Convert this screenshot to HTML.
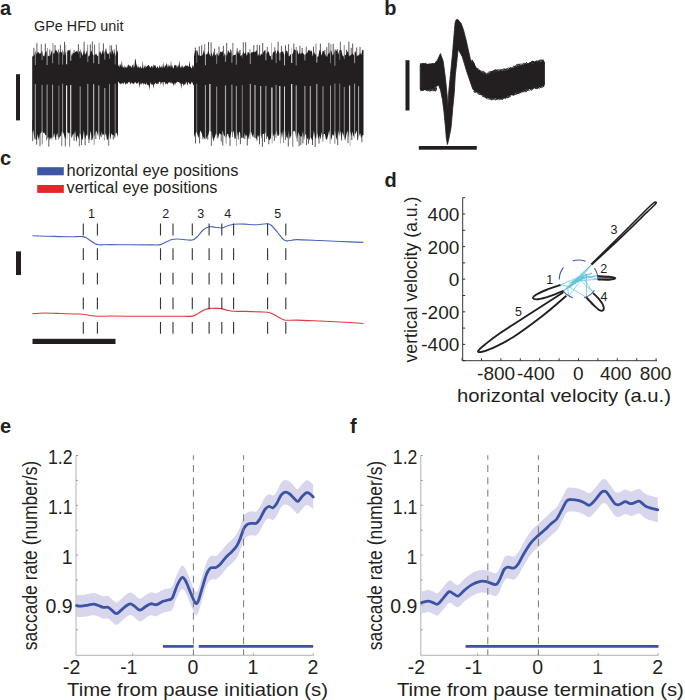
<!DOCTYPE html>
<html><head><meta charset="utf-8"><style>
html,body{margin:0;padding:0;background:#fff;width:685px;height:700px;overflow:hidden}
svg{display:block;font-family:"Liberation Sans", sans-serif}
</style></head><body>
<svg width="685" height="700" viewBox="0 0 685 700">
<text x="34" y="30.7" font-size="14.5" textLength="89.5" lengthAdjust="spacingAndGlyphs" fill="#231f20">GPe HFD unit</text>
<path d="M117,65.8 L117.6,66.6 L118.2,64.6 L118.8,66.2 L119.4,67 L120,63.3 L120.6,65 L121.2,66.8 L121.8,60 L122.4,65.8 L123,67.7 L123.6,66.6 L124.2,68.4 L124.8,65.1 L125.4,67.6 L126,67.3 L126.6,67.9 L127.2,64.7 L127.8,67.8 L128.4,64.6 L129,64.7 L129.6,66.1 L130.2,66.7 L130.8,65.6 L131.4,68.3 L132,65.4 L132.6,64.5 L133.2,68.3 L133.8,63.5 L134.4,67.7 L135,59.3 L135.6,59 L136.2,63.4 L136.8,65.5 L137.4,67.9 L138,64.8 L138.6,67.8 L139.2,66.6 L139.8,68.4 L140.4,66 L141,67.6 L141.6,68.4 L142.2,67.5 L142.8,60.4 L143.4,68.3 L144,68.3 L144.6,65.3 L145.2,67.9 L145.8,64.8 L146.4,67.5 L147,65.8 L147.6,66.1 L148.2,65 L148.8,65.1 L149.4,65.9 L150,67.1 L150.6,68 L151.2,65.7 L151.8,66.2 L152.4,66.3 L153,68.2 L153.6,64.6 L154.2,65.2 L154.8,65.8 L155.4,64.9 L156,67.6 L156.6,68.1 L157.2,66.5 L157.8,66.4 L158.4,68.3 L159,67.9 L159.6,64.8 L160.2,67.6 L160.8,67.1 L161.4,65.4 L162,68.5 L162.6,66.6 L163.2,61.8 L163.8,67 L164.4,67.7 L165,64.7 L165.6,66.2 L166.2,65.1 L166.8,62.4 L167.4,68.3 L168,63.3 L168.6,66.7 L169.2,66.6 L169.8,64.7 L170.4,67.5 L171,60.3 L171.6,66.7 L172.2,64.9 L172.8,67.8 L173.4,68.4 L174,67 L174.6,64.8 L175.2,64.8 L175.8,65.6 L176.4,65.1 L177,68.4 L177.6,65.7 L178.2,66.4 L178.8,64.5 L179.4,60.5 L180,66.6 L180.6,68 L181.2,65.1 L181.8,68.1 L182.4,65.1 L183,67.7 L183.6,67.2 L184.2,65.9 L184.8,67 L185.4,64.5 L186,66.6 L186.6,65.5 L187.2,65.3 L187.8,66 L188.4,67 L189,65.5 L189.6,60.3 L190.2,67.2 L190.8,66.4 L191.4,68.4 L192,67.8 L192.6,65.3 L193.2,65.1 L193.8,67.8 L194.4,65.4 L195,66.5 L195,82.7 L194.4,85.5 L193.8,85 L193.2,85.3 L192.6,82.3 L192,83.3 L191.4,81.6 L190.8,85.1 L190.2,83.6 L189.6,84.2 L189,82.7 L188.4,81.8 L187.8,84.2 L187.2,85.4 L186.6,82.6 L186,81.8 L185.4,84.5 L184.8,84.2 L184.2,84.8 L183.6,86.1 L183,83.8 L182.4,83.5 L181.8,84.4 L181.2,89.3 L180.6,82.8 L180,84.1 L179.4,82.4 L178.8,81.9 L178.2,82.3 L177.6,81.5 L177,82.5 L176.4,82.6 L175.8,82.7 L175.2,85 L174.6,82.5 L174,86.1 L173.4,84.8 L172.8,83.5 L172.2,83.2 L171.6,83.4 L171,81.6 L170.4,83.5 L169.8,82.7 L169.2,81.9 L168.6,82.6 L168,83.3 L167.4,84.7 L166.8,83.2 L166.2,83.8 L165.6,84.8 L165,82.6 L164.4,81.9 L163.8,81.8 L163.2,87 L162.6,82.3 L162,82.1 L161.4,83.1 L160.8,85 L160.2,82.1 L159.6,81.8 L159,82 L158.4,83.7 L157.8,84.3 L157.2,83.3 L156.6,84 L156,83.7 L155.4,82.5 L154.8,83.7 L154.2,84.4 L153.6,89.1 L153,83.6 L152.4,85.1 L151.8,85.1 L151.2,83.8 L150.6,82.3 L150,85.2 L149.4,89.9 L148.8,85.4 L148.2,85.1 L147.6,84.4 L147,85.4 L146.4,82.2 L145.8,85.1 L145.2,84.1 L144.6,84 L144,82.4 L143.4,85.2 L142.8,82.5 L142.2,83.6 L141.6,84.7 L141,82.4 L140.4,84.6 L139.8,84.3 L139.2,87.9 L138.6,81.6 L138,82.9 L137.4,83.4 L136.8,83 L136.2,84 L135.6,82.1 L135,82.3 L134.4,83.1 L133.8,84.6 L133.2,83.6 L132.6,83 L132,83.9 L131.4,82.2 L130.8,82.9 L130.2,84.8 L129.6,81.8 L129,82 L128.4,82.2 L127.8,83 L127.2,84.1 L126.6,83.4 L126,83.8 L125.4,85 L124.8,81.7 L124.2,83.2 L123.6,84.4 L123,82.5 L122.4,83.3 L121.8,84.2 L121.2,83 L120.6,84.8 L120,82.7 L119.4,83.8 L118.8,82 L118.2,81.8 L117.6,81.7 L117,84.1Z" fill="#231f20"/>
<path d="M32.2,56.8 L33.3,55.8 L34.4,55.1 L35.5,50.4 L36.6,54.8 L37.7,51.7 L38.8,52.4 L39.9,53.9 L41,52.7 L42.1,49.9 L43.2,55.8 L44.3,56.5 L45.4,51.5 L46.5,50.9 L47.6,56.7 L48.7,55.6 L49.8,56.4 L50.9,53.6 L52,49.9 L53.1,52.9 L54.2,54.3 L55.3,49.9 L56.4,50.5 L57.5,52.1 L58.6,55 L59.7,51.5 L60.8,51.8 L61.9,52.5 L63,50.7 L64.1,56.3 L65.2,51.2 L66.3,57 L67.4,50.5 L68.5,50.2 L69.6,50.2 L70.7,51.4 L71.8,56.2 L72.9,52.6 L74,53.4 L75.1,52 L76.2,51.6 L77.3,50.4 L78.4,54.2 L79.5,51.1 L80.6,51.4 L81.7,52.8 L82.8,55.9 L83.9,49.7 L85,54.8 L86.1,53 L87.2,49.5 L88.3,56.5 L89.4,55.9 L90.5,51.4 L91.6,50.7 L92.7,54.6 L93.8,54.9 L94.9,55.2 L96,53.6 L97.1,55.4 L98.2,56.4 L99.3,51.8 L100.4,51.4 L101.5,54.7 L102.6,50 L103.7,53.9 L104.8,51.2 L105.9,49.6 L107,53 L108.1,54.3 L109.2,53.1 L110.3,51.4 L111.4,54.8 L112.5,49.7 L113.6,54.6 L114.7,51.4 L115.8,56.4 L116.9,49.8 L118,52.7 L118,137.2 L116.9,133.5 L115.8,132.4 L114.7,137 L113.6,134.4 L112.5,135.2 L111.4,133.2 L110.3,140.1 L109.2,132.5 L108.1,139.3 L107,140.1 L105.9,133.2 L104.8,136.3 L103.7,134.1 L102.6,135.5 L101.5,131.2 L100.4,136.7 L99.3,131.3 L98.2,136.8 L97.1,132.4 L96,130.4 L94.9,134.8 L93.8,136.8 L92.7,139.9 L91.6,135.5 L90.5,131.1 L89.4,140.2 L88.3,138.7 L87.2,134.1 L86.1,136.2 L85,139.4 L83.9,130.3 L82.8,139.2 L81.7,140 L80.6,134.2 L79.5,132.8 L78.4,139.1 L77.3,135.3 L76.2,140.2 L75.1,130.7 L74,134 L72.9,134.3 L71.8,137.9 L70.7,136 L69.6,132.5 L68.5,133.6 L67.4,132 L66.3,134.7 L65.2,139.5 L64.1,135.2 L63,132.2 L61.9,131.8 L60.8,135.9 L59.7,136.9 L58.6,140.3 L57.5,133.1 L56.4,135 L55.3,139.7 L54.2,133 L53.1,137.9 L52,137.7 L50.9,137.6 L49.8,139.9 L48.7,136.6 L47.6,139.3 L46.5,133.9 L45.4,135.4 L44.3,132.6 L43.2,133 L42.1,131.1 L41,132.9 L39.9,133.8 L38.8,140.5 L37.7,133.9 L36.6,139.5 L35.5,139.7 L34.4,138.8 L33.3,130 L32.2,133.3Z" fill="#231f20"/>
<path d="M33.9 47.8V60M36.9 43.2V60M41.3 44.1V60M45.3 43.5V60M47.4 48V60M49.8 49.6V60M52.8 43.1V60M55 45V60M58.5 49.6V60M60.4 44.8V60M62.6 49.8V60M64.5 41.9V60M66.2 44.8V60M70.4 49V60M74.1 50V60M78.4 44.3V60M80.4 49.5V60M84.1 41.8V60M87.6 44.7V60M90.3 44.3V60M92.3 41.5V60M94.6 44.5V60M99 42.6V60M103.4 43.3V60M105.9 48.5V60M109.9 45.2V60M111.6 45.5V60M114.2 49.3V60M116.3 44.6V60M32.7 120V141.1M36.7 120V144.7M38.3 120V137.3M40 120V146.2M42.3 120V144.5M46.5 120V140.4M48.8 120V146.6M52.1 120V139.6M55.8 120V140.2M58.1 120V137M61.9 120V146.2M65.3 120V146.4M66.8 120V139.3M69.8 120V146.6M74.1 120V140.9M76.4 120V141.3M79.4 120V146.3M81.4 120V145M85.1 120V145.2M88.9 120V143.1M91.4 120V140.2M94 120V144.8M95.8 120V139M99.5 120V139.5M101.2 120V137.3M104.4 120V140.3M108.8 120V145.8M113.3 120V139.6M115 120V138" stroke="#231f20" stroke-width="0.75" fill="none"/>
<path d="M35.3 84.1V152" stroke="#fff" stroke-width="1.0" stroke-opacity="0.6"/><path d="M35.3 38V65.1" stroke="#fff" stroke-width="1.0" stroke-opacity="0.5"/><path d="M42.1 84.8V152" stroke="#fff" stroke-width="0.7" stroke-opacity="0.8"/><path d="M42.1 38V60.1" stroke="#fff" stroke-width="0.7" stroke-opacity="0.6"/><path d="M47.1 84.6V152" stroke="#fff" stroke-width="1.0" stroke-opacity="0.6"/><path d="M47.1 38V65.1" stroke="#fff" stroke-width="1.0" stroke-opacity="0.6"/><path d="M52.6 84.6V152" stroke="#fff" stroke-width="1.0" stroke-opacity="0.6"/><path d="M52.6 38V63.2" stroke="#fff" stroke-width="1.0" stroke-opacity="0.5"/><path d="M58.9 85.6V152" stroke="#fff" stroke-width="0.7" stroke-opacity="0.6"/><path d="M58.9 38V64.7" stroke="#fff" stroke-width="0.7" stroke-opacity="0.6"/><path d="M62.6 83.7V152" stroke="#fff" stroke-width="0.9" stroke-opacity="0.6"/><path d="M62.6 38V64.6" stroke="#fff" stroke-width="0.9" stroke-opacity="0.5"/><path d="M66.6 85.5V152" stroke="#fff" stroke-width="1.2" stroke-opacity="0.9"/><path d="M66.6 38V64.2" stroke="#fff" stroke-width="1.2" stroke-opacity="0.8"/><path d="M70.7 85.1V152" stroke="#fff" stroke-width="1.2" stroke-opacity="0.8"/><path d="M70.7 38V60.7" stroke="#fff" stroke-width="1.2" stroke-opacity="0.6"/><path d="M80.2 86.4V152" stroke="#fff" stroke-width="0.7" stroke-opacity="0.8"/><path d="M80.2 38V58.1" stroke="#fff" stroke-width="0.7" stroke-opacity="0.6"/><path d="M87.8 83.9V152" stroke="#fff" stroke-width="0.8" stroke-opacity="0.8"/><path d="M87.8 38V62" stroke="#fff" stroke-width="0.8" stroke-opacity="0.6"/><path d="M93.7 84.2V152" stroke="#fff" stroke-width="1.0" stroke-opacity="0.8"/><path d="M93.7 38V63.2" stroke="#fff" stroke-width="1.0" stroke-opacity="0.6"/><path d="M98.8 85.4V152" stroke="#fff" stroke-width="0.9" stroke-opacity="0.8"/><path d="M98.8 38V64" stroke="#fff" stroke-width="0.9" stroke-opacity="0.8"/><path d="M104.8 88V152" stroke="#fff" stroke-width="0.7" stroke-opacity="0.9"/><path d="M104.8 38V59.6" stroke="#fff" stroke-width="0.7" stroke-opacity="0.8"/><path d="M109.5 84.2V152" stroke="#fff" stroke-width="0.7" stroke-opacity="0.7"/><path d="M109.5 38V58.7" stroke="#fff" stroke-width="0.7" stroke-opacity="0.6"/><path d="M115.2 83.7V152" stroke="#fff" stroke-width="0.8" stroke-opacity="0.6"/><path d="M115.2 38V64.5" stroke="#fff" stroke-width="0.8" stroke-opacity="0.5"/>
<path d="M194,56.2 L195.1,50.8 L196.2,50.7 L197.3,50 L198.4,55.2 L199.5,55.5 L200.6,55.8 L201.7,56.3 L202.8,54.1 L203.9,50.1 L205,54.7 L206.1,54.3 L207.2,54.2 L208.3,51 L209.4,53.7 L210.5,56.5 L211.6,52.2 L212.7,56.8 L213.8,50.9 L214.9,55.8 L216,54.5 L217.1,52.4 L218.2,55.9 L219.3,54.4 L220.4,51.4 L221.5,52.3 L222.6,50.8 L223.7,56.9 L224.8,52.9 L225.9,55.6 L227,55.6 L228.1,50 L229.2,52.2 L230.3,53.3 L231.4,49.8 L232.5,56.4 L233.6,54.9 L234.7,55.1 L235.8,54.4 L236.9,49.7 L238,54.1 L239.1,50.3 L240.2,56.1 L241.3,55.6 L242.4,54.6 L243.5,51.2 L244.6,54.1 L245.7,51.9 L246.8,56.3 L247.9,51.4 L249,53.1 L250.1,54.1 L251.2,52.3 L252.3,52.5 L253.4,51.6 L254.5,52.3 L255.6,51.5 L256.7,49.9 L257.8,56.7 L258.9,53.4 L260,56.2 L261.1,53.5 L262.2,55 L263.3,52.3 L264.4,50.6 L265.5,50.1 L266.6,54.1 L267.7,51.7 L268.8,51.8 L269.9,56 L271,56.2 L272.1,55.1 L273.2,51.7 L274.3,52.6 L275.4,49.9 L276.5,54.1 L277.6,49.9 L278.7,51.8 L279.8,53.5 L280.9,51.8 L282,52.2 L283.1,50.7 L284.2,55.5 L285.3,52.9 L286.4,50.6 L287.5,51.5 L288.6,56.8 L289.7,55.7 L290.8,54 L291.9,54 L293,53.2 L294.1,49.5 L295.2,49.7 L296.3,50.7 L297.4,50.3 L298.5,54.4 L299.6,52.6 L300.7,54.3 L301.8,52.6 L302.9,53.3 L304,54.2 L305.1,54.9 L306.2,53.5 L307.3,52.8 L308.4,50.1 L309.5,50.8 L310.6,51.5 L311.7,50.4 L312.8,56.4 L313.9,51.5 L315,54.3 L316.1,54.6 L317.2,56.8 L318.3,56.5 L319.4,50.1 L320.5,50.8 L321.6,55.8 L322.7,50.7 L323.8,50.9 L324.9,54 L326,55.9 L327.1,56.9 L328.2,53.5 L329.3,53.5 L330.4,49.7 L331.5,51.3 L332.6,55.4 L333.7,53.9 L334.8,50.8 L335.9,50.3 L337,50.7 L338.1,54.8 L339.2,50.5 L340.3,49.8 L341.4,49.9 L342.5,55.2 L343.6,56.7 L344.7,54.5 L345.8,55.2 L346.9,52.4 L348,51 L349.1,56.6 L350.2,55.2 L351.3,55.1 L352.4,53.1 L353.5,55.4 L354.6,51.7 L355.7,51.5 L356.8,56.5 L357.9,55.2 L359,55.3 L360.1,53.1 L361.2,55.1 L362.3,49.7 L363.5,50.2 L363.5,134.9 L362.3,135.4 L361.2,138.3 L360.1,133 L359,136.3 L357.9,139.6 L356.8,130.5 L355.7,133.7 L354.6,133.5 L353.5,136.8 L352.4,131.4 L351.3,136.6 L350.2,130.9 L349.1,139.6 L348,130.4 L346.9,132.6 L345.8,137.5 L344.7,139.2 L343.6,135.6 L342.5,132.1 L341.4,139 L340.3,130.7 L339.2,136.8 L338.1,130.3 L337,140.3 L335.9,136.5 L334.8,130.3 L333.7,135.9 L332.6,134.1 L331.5,139.3 L330.4,140 L329.3,130.1 L328.2,135 L327.1,138.8 L326,139.7 L324.9,134 L323.8,134.1 L322.7,139.6 L321.6,132.1 L320.5,139.5 L319.4,135.3 L318.3,139.4 L317.2,133.1 L316.1,139.6 L315,137.1 L313.9,130.6 L312.8,139.9 L311.7,139.4 L310.6,136.8 L309.5,140.5 L308.4,136.9 L307.3,139.6 L306.2,133.9 L305.1,135 L304,140.4 L302.9,130.7 L301.8,136.4 L300.7,136.8 L299.6,135.4 L298.5,132.1 L297.4,136.4 L296.3,139.6 L295.2,131.9 L294.1,130.6 L293,131.7 L291.9,135.4 L290.8,136.1 L289.7,139.4 L288.6,130.6 L287.5,138.5 L286.4,137 L285.3,130.7 L284.2,137.4 L283.1,130.1 L282,138.7 L280.9,131.4 L279.8,134.3 L278.7,135.5 L277.6,136 L276.5,130.5 L275.4,135.1 L274.3,133.8 L273.2,136.6 L272.1,132.3 L271,137.7 L269.9,139.7 L268.8,140.1 L267.7,135.4 L266.6,140.1 L265.5,132.4 L264.4,133.5 L263.3,133.9 L262.2,133.9 L261.1,139 L260,132.6 L258.9,137.2 L257.8,134.8 L256.7,139 L255.6,138.1 L254.5,138.3 L253.4,133.4 L252.3,136.7 L251.2,132.1 L250.1,132.5 L249,136.2 L247.9,140.1 L246.8,134.8 L245.7,136.4 L244.6,132.6 L243.5,138.7 L242.4,137.6 L241.3,138.3 L240.2,133 L239.1,131.4 L238,137.3 L236.9,130.7 L235.8,138.2 L234.7,139.4 L233.6,130.8 L232.5,133.3 L231.4,131.4 L230.3,136.9 L229.2,138.4 L228.1,133.8 L227,134.2 L225.9,138.8 L224.8,136.5 L223.7,134.9 L222.6,130 L221.5,135.3 L220.4,134.1 L219.3,133.2 L218.2,138.2 L217.1,134.8 L216,133.4 L214.9,137.1 L213.8,139.3 L212.7,138.6 L211.6,131.6 L210.5,131.6 L209.4,130.4 L208.3,135 L207.2,136.5 L206.1,139 L205,139.4 L203.9,137.5 L202.8,136.7 L201.7,133.3 L200.6,130.5 L199.5,133.2 L198.4,138.3 L197.3,134 L196.2,131.8 L195.1,133.7 L194,137.7Z" fill="#231f20"/>
<path d="M195.3 47.6V60M199.3 46.4V60M201.7 45.2V60M204.8 44V60M208.5 42V60M211.1 42.3V60M214.6 48.5V60M219 46.5V60M223.4 45.9V60M226.7 42.9V60M230.6 49.5V60M232.8 42.9V60M237.1 48V60M240.1 49.9V60M243.3 42.4V60M245.7 42.3V60M250 49.1V60M253.8 45.1V60M257.2 44.7V60M259.6 45.1V60M262.7 43V60M267.2 46.9V60M271.5 42.6V60M274.8 47.4V60M278.1 41.8V60M281.4 45.9V60M285.5 45.3V60M288.6 44.2V60M291.5 47.4V60M293.8 43.5V60M296.3 47V60M299.9 45.8V60M302.2 47.9V60M306.2 46.7V60M309.8 49.8V60M313.5 46.6V60M316.1 43.5V60M320.4 43.7V60M324.8 50V60M326.8 47.1V60M328.9 42.8V60M330.8 44.1V60M333.2 43.8V60M335 49.2V60M337.4 49V60M340.3 41.6V60M344.3 45.2V60M346.5 49.8V60M348.9 41.7V60M351.2 47.8V60M352.7 43.6V60M356.7 47.5V60M360 47V60M195.5 120V143.5M199.6 120V143.4M202.9 120V139.3M204.9 120V138.2M207.7 120V139.6M211.3 120V145.9M213.6 120V141M217.2 120V138.6M221.2 120V141.8M222.8 120V145.6M225.9 120V143.6M230 120V145.9M232.5 120V137.1M236.5 120V146.1M238.3 120V139.5M240.4 120V144.2M244.8 120V139M247.3 120V145.5M250.2 120V139M253.1 120V137.2M257 120V140.7M259.5 120V144.4M262.4 120V146.9M264.5 120V142.1M268.8 120V144.3M272.1 120V143.4M274.4 120V140.8M276 120V137.8M280.3 120V143.3M283.8 120V142.8M285.6 120V140M288.3 120V146.5M292.7 120V146.9M297.1 120V141.6M299.1 120V146.3M300.8 120V145M302.9 120V143.4M306.6 120V145.1M308.5 120V143.7M312.5 120V145M315.2 120V147M319 120V143.5M322.9 120V141.7M326.7 120V139.3M330.3 120V143.9M334.8 120V143.8M337.7 120V145.1M341.6 120V140.6M345.1 120V140.2M348 120V143.2M349.8 120V146M351.8 120V140M354.4 120V137.9M357.6 120V140.2M361.9 120V142.3" stroke="#231f20" stroke-width="0.75" fill="none"/>
<path d="M196.7 83.8V152" stroke="#fff" stroke-width="0.7" stroke-opacity="0.6"/><path d="M196.7 38V62.9" stroke="#fff" stroke-width="0.7" stroke-opacity="0.5"/><path d="M205.4 85.1V152" stroke="#fff" stroke-width="0.8" stroke-opacity="0.8"/><path d="M205.4 38V65.2" stroke="#fff" stroke-width="0.8" stroke-opacity="0.8"/><path d="M209.9 83.9V152" stroke="#fff" stroke-width="1.2" stroke-opacity="0.9"/><path d="M216.7 86.6V152" stroke="#fff" stroke-width="0.9" stroke-opacity="0.6"/><path d="M216.7 38V63.9" stroke="#fff" stroke-width="0.9" stroke-opacity="0.5"/><path d="M225.5 85.4V152" stroke="#fff" stroke-width="1.2" stroke-opacity="0.6"/><path d="M225.5 38V61.8" stroke="#fff" stroke-width="1.2" stroke-opacity="0.5"/><path d="M231.9 84.6V152" stroke="#fff" stroke-width="0.8" stroke-opacity="0.8"/><path d="M231.9 38V62.8" stroke="#fff" stroke-width="0.8" stroke-opacity="0.7"/><path d="M236.3 86V152" stroke="#fff" stroke-width="0.9" stroke-opacity="0.7"/><path d="M236.3 38V64.7" stroke="#fff" stroke-width="0.9" stroke-opacity="0.6"/><path d="M242.3 85.1V152" stroke="#fff" stroke-width="0.7" stroke-opacity="0.6"/><path d="M242.3 38V58.2" stroke="#fff" stroke-width="0.7" stroke-opacity="0.4"/><path d="M250.3 83.9V152" stroke="#fff" stroke-width="0.9" stroke-opacity="0.8"/><path d="M250.3 38V64.1" stroke="#fff" stroke-width="0.9" stroke-opacity="0.6"/><path d="M255 85V152" stroke="#fff" stroke-width="1.0" stroke-opacity="0.8"/><path d="M260.7 86V152" stroke="#fff" stroke-width="1.0" stroke-opacity="0.8"/><path d="M265.9 86V152" stroke="#fff" stroke-width="0.9" stroke-opacity="0.7"/><path d="M265.9 38V60.3" stroke="#fff" stroke-width="0.9" stroke-opacity="0.7"/><path d="M271.9 87.4V152" stroke="#fff" stroke-width="1.2" stroke-opacity="0.9"/><path d="M271.9 38V59.6" stroke="#fff" stroke-width="1.2" stroke-opacity="0.8"/><path d="M276.1 84.8V152" stroke="#fff" stroke-width="0.8" stroke-opacity="0.7"/><path d="M276.1 38V63.1" stroke="#fff" stroke-width="0.8" stroke-opacity="0.6"/><path d="M279.8 86V152" stroke="#fff" stroke-width="1.2" stroke-opacity="0.9"/><path d="M279.8 38V60.4" stroke="#fff" stroke-width="1.2" stroke-opacity="0.6"/><path d="M284.5 86.5V152" stroke="#fff" stroke-width="1.0" stroke-opacity="0.8"/><path d="M284.5 38V65.3" stroke="#fff" stroke-width="1.0" stroke-opacity="0.7"/><path d="M291.7 83.9V152" stroke="#fff" stroke-width="1.2" stroke-opacity="0.9"/><path d="M291.7 38V63.1" stroke="#fff" stroke-width="1.2" stroke-opacity="0.8"/><path d="M296.2 85.4V152" stroke="#fff" stroke-width="0.8" stroke-opacity="0.9"/><path d="M296.2 38V65.4" stroke="#fff" stroke-width="0.8" stroke-opacity="0.6"/><path d="M304.9 86V152" stroke="#fff" stroke-width="0.8" stroke-opacity="0.8"/><path d="M304.9 38V60.4" stroke="#fff" stroke-width="0.8" stroke-opacity="0.7"/><path d="M310.3 86.1V152" stroke="#fff" stroke-width="1.0" stroke-opacity="0.7"/><path d="M316.8 84V152" stroke="#fff" stroke-width="1.2" stroke-opacity="0.6"/><path d="M316.8 38V62.6" stroke="#fff" stroke-width="1.2" stroke-opacity="0.6"/><path d="M323 86.2V152" stroke="#fff" stroke-width="0.7" stroke-opacity="0.8"/><path d="M330.5 85.4V152" stroke="#fff" stroke-width="0.8" stroke-opacity="0.7"/><path d="M330.5 38V63.2" stroke="#fff" stroke-width="0.8" stroke-opacity="0.5"/><path d="M334.9 83.5V152" stroke="#fff" stroke-width="0.7" stroke-opacity="0.7"/><path d="M334.9 38V65.9" stroke="#fff" stroke-width="0.7" stroke-opacity="0.7"/><path d="M339.7 83.6V152" stroke="#fff" stroke-width="0.7" stroke-opacity="0.6"/><path d="M339.7 38V59.9" stroke="#fff" stroke-width="0.7" stroke-opacity="0.5"/><path d="M344.3 86.9V152" stroke="#fff" stroke-width="0.7" stroke-opacity="0.7"/><path d="M344.3 38V59.2" stroke="#fff" stroke-width="0.7" stroke-opacity="0.6"/><path d="M349.6 85.6V152" stroke="#fff" stroke-width="1.2" stroke-opacity="0.8"/><path d="M354.6 83.6V152" stroke="#fff" stroke-width="0.7" stroke-opacity="0.8"/><path d="M354.6 38V63.2" stroke="#fff" stroke-width="0.7" stroke-opacity="0.8"/><path d="M358.6 86.2V152" stroke="#fff" stroke-width="0.9" stroke-opacity="0.7"/>
<rect x="16" y="74.2" width="4" height="46.2" fill="#231f20"/>
<path d="M420.2,65 L425,64.5 L430,64.5 L434.3,64 L437.5,60 L440.4,53.6 L443.2,61.3 L445.5,78.7 L447.2,96.1 L447.8,108 L448.9,90 L450.5,74 L452.5,53.6 L454.1,34.3 L455.1,22.7 L456.1,19.8 L458,19.6 L461.3,23.7 L463.5,30 L466.1,40 L470.5,59.7 L477.1,70.2 L486.3,75.5 L494.2,72.2 L506,70.9 L515.2,67.6 L528.3,64.3 L544.1,61.7 L544.5,62 L544.5,85 L528.3,88.6 L515.2,92.6 L502,97.8 L488.9,97.8 L479.7,92.6 L472.8,89.2 L467.1,72.8 L462.2,56.5 L458.4,49.7 L458.4,47.5 L457.5,55 L456.6,64 L455.3,75 L454.3,92 L452.6,110 L451,128 L448.6,140 L447.4,144.5 L446.3,138 L445.5,128 L444,112 L442.5,100 L440.5,90 L438.5,85 L434,88 L428,89 L420.2,89.2Z" fill="#231f20" stroke="#231f20" stroke-width="0.8" stroke-linejoin="round"/>
<polyline points="420.2,64.3 421.7,65.1 423.2,63.3 424.7,64 426.2,64.7 427.7,65.5 429.2,63.3 430.7,65.7 432.2,63.3 433.7,65.5 435.2,63.8 436.7,64.7" fill="none" stroke="#231f20" stroke-width="0.7"/>
<polyline points="420.2,88.3 421.7,89.5 423.2,90.2 424.7,88.4 426.2,90 427.7,90.2 429.2,88.9 430.7,88.8 432.2,88.2 433.7,89 435.2,88 436.7,88.5" fill="none" stroke="#231f20" stroke-width="0.7"/>
<polyline points="420.2,66 421.7,65.6 423.2,63.7 424.7,64.4 426.2,63.3 427.7,65.3 429.2,64.9 430.7,64.9 432.2,63.8 433.7,65.3 435.2,64.7 436.7,64.1" fill="none" stroke="#231f20" stroke-width="0.7"/>
<polyline points="420.2,90 421.7,90.2 423.2,90.6 424.7,87.8 426.2,88.4 427.7,88.3 429.2,90.1 430.7,90.7 432.2,87.9 433.7,87.5 435.2,90.7 436.7,87.6" fill="none" stroke="#231f20" stroke-width="0.7"/>
<polyline points="420.2,63.8 421.7,64.5 423.2,63.8 424.7,64.6 426.2,64.5 427.7,64.5 429.2,64.6 430.7,64.9 432.2,63.8 433.7,64 435.2,63.2 436.7,65.1" fill="none" stroke="#231f20" stroke-width="0.7"/>
<polyline points="420.2,91 421.7,89.7 423.2,88.6 424.7,87.8 426.2,89 427.7,91.2 429.2,89.8 430.7,89.2 432.2,89.2 433.7,89.9 435.2,91 436.7,89.7" fill="none" stroke="#231f20" stroke-width="0.7"/>
<polyline points="420.2,64.5 421.7,65.3 423.2,63.7 424.7,65.1 426.2,64.6 427.7,65.4 429.2,65.4 430.7,65.7 432.2,63.7 433.7,65.2 435.2,64.4 436.7,65" fill="none" stroke="#231f20" stroke-width="0.7"/>
<polyline points="420.2,88.3 421.7,88 423.2,90.3 424.7,87.8 426.2,89.4 427.7,88 429.2,89.8 430.7,89.5 432.2,90.9 433.7,90 435.2,91.1 436.7,90.2" fill="none" stroke="#231f20" stroke-width="0.7"/>
<polyline points="420.2,64.3 421.7,65.7 423.2,65.4 424.7,63.6 426.2,64.4 427.7,64.4 429.2,65.4 430.7,63.4 432.2,65.2 433.7,65.7 435.2,64.7 436.7,64.3" fill="none" stroke="#231f20" stroke-width="0.7"/>
<polyline points="420.2,88.9 421.7,90.7 423.2,88.1 424.7,89.9 426.2,87.5 427.7,89.8 429.2,91.1 430.7,91.1 432.2,89.8 433.7,88.6 435.2,89.4 436.7,88.1" fill="none" stroke="#231f20" stroke-width="0.7"/>
<polyline points="420.2,63.5 421.7,63.6 423.2,64.2 424.7,63.4 426.2,64 427.7,65.7 429.2,65.1 430.7,65.3 432.2,65.7 433.7,63.4 435.2,64.6 436.7,65.5" fill="none" stroke="#231f20" stroke-width="0.7"/>
<polyline points="420.2,88.1 421.7,89.8 423.2,90.3 424.7,88.5 426.2,90.6 427.7,87.7 429.2,87.7 430.7,91 432.2,89.2 433.7,91.1 435.2,87.8 436.7,90.2" fill="none" stroke="#231f20" stroke-width="0.7"/>
<polyline points="420.2,64.6 421.7,63.9 423.2,63.9 424.7,64.6 426.2,65.7 427.7,65.1 429.2,66 430.7,65.4 432.2,63.9 433.7,64.3 435.2,64.8 436.7,64.2" fill="none" stroke="#231f20" stroke-width="0.7"/>
<polyline points="420.2,89.5 421.7,89.8 423.2,89.8 424.7,89.8 426.2,89.8 427.7,89.6 429.2,88.2 430.7,87.8 432.2,87.9 433.7,89.5 435.2,87.8 436.7,88.2" fill="none" stroke="#231f20" stroke-width="0.7"/>
<polyline points="472,63 473.6,62.8 475.2,68.4 476.8,68.7 478.4,71 480,70.4 481.6,71.2 483.2,71.4 484.8,72.4 486.4,75.4 488,76.2 489.6,75.3 491.2,71.1 492.8,73 494.4,72.7 496,73 497.6,71.9 499.2,71.8 500.8,70 502.4,72.1 504,70.8 505.6,68.9 507.2,70.2 508.8,70.8 510.4,69.1 512,69.3 513.6,69.6 515.2,66.8 516.8,67.5 518.4,65.1 520,66.8 521.6,67.1 523.2,65.3 524.8,64.8 526.4,65.7 528,63.8 529.6,63.1 531.2,62.2 532.8,61.4 534.4,62.6 536,61.2 537.6,63.8 539.2,61 540.8,59.9 542.4,61.8 544,62.2" fill="none" stroke="#231f20" stroke-width="0.7"/>
<polyline points="473.6,89 475.2,89.8 476.8,91.2 478.4,92.1 480,91.9 481.6,95.5 483.2,97 484.8,94.6 486.4,97.4 488,97.6 489.6,98.3 491.2,98.3 492.8,98.1 494.4,99.5 496,100.1 497.6,97.4 499.2,97.7 500.8,96.5 502.4,97.8 504,96.6 505.6,95.6 507.2,97.6 508.8,95.7 510.4,93.9 512,93.1 513.6,94.1 515.2,94.4 516.8,94.2 518.4,93 520,92.7 521.6,89.8 523.2,89.2 524.8,90.8 526.4,90.2 528,88 529.6,88 531.2,86.5 532.8,88.8 534.4,87.8 536,88.7 537.6,88.6 539.2,86.7 540.8,85.6 542.4,85 544,86.1" fill="none" stroke="#231f20" stroke-width="0.7"/>
<polyline points="472,59.8 473.6,65.8 475.2,67 476.8,68.2 478.4,71.9 480,70.7 481.6,73.3 483.2,73 484.8,72.2 486.4,76.8 488,73.5 489.6,73.3 491.2,71.5 492.8,72.9 494.4,69.9 496,69.6 497.6,73 499.2,71.7 500.8,72 502.4,69.5 504,69 505.6,69.3 507.2,68.5 508.8,69.1 510.4,67.2 512,69.1 513.6,69.2 515.2,66.2 516.8,66.9 518.4,68.2 520,64.7 521.6,67 523.2,66.1 524.8,66.3 526.4,63.8 528,65.2 529.6,64.3 531.2,63.1 532.8,61.2 534.4,64.7 536,60.8 537.6,61.3 539.2,63 540.8,60.4 542.4,60.9 544,61.4" fill="none" stroke="#231f20" stroke-width="0.7"/>
<polyline points="473.6,89 475.2,90.7 476.8,91.1 478.4,90.8 480,92 481.6,93.3 483.2,94.9 484.8,96.3 486.4,97.9 488,96.2 489.6,96.8 491.2,99.8 492.8,98.5 494.4,97.2 496,97.2 497.6,99 499.2,98.1 500.8,97.9 502.4,99.9 504,95.6 505.6,97.4 507.2,97 508.8,96 510.4,95.4 512,92.5 513.6,95.6 515.2,91.3 516.8,92.1 518.4,91.7 520,93 521.6,92 523.2,92 524.8,90.4 526.4,91.6 528,88.5 529.6,88.4 531.2,88.7 532.8,87.4 534.4,86.3 536,88.1 537.6,86.4 539.2,88.1 540.8,86.9 542.4,83.9 544,84" fill="none" stroke="#231f20" stroke-width="0.7"/>
<polyline points="472,62.8 473.6,64.8 475.2,67.9 476.8,68.5 478.4,71.5 480,71.7 481.6,72.7 483.2,71.2 484.8,74.3 486.4,76.8 488,72.4 489.6,71.7 491.2,74.8 492.8,70.8 494.4,71.2 496,69.8 497.6,70.8 499.2,70.6 500.8,69.7 502.4,72.7 504,72.2 505.6,72 507.2,71.9 508.8,70.4 510.4,70.7 512,69.8 513.6,68.3 515.2,68.4 516.8,68.5 518.4,64.5 520,64.2 521.6,63.9 523.2,66.7 524.8,64.3 526.4,62.6 528,64.1 529.6,63.5 531.2,61.8 532.8,61.4 534.4,62.5 536,63.4 537.6,61.3 539.2,61 540.8,62.6 542.4,61.7 544,60.4" fill="none" stroke="#231f20" stroke-width="0.7"/>
<polyline points="473.6,89 475.2,90.4 476.8,91.9 478.4,91.9 480,94.8 481.6,93.4 483.2,95 484.8,97.3 486.4,95 488,97.1 489.6,97.1 491.2,98.5 492.8,100.2 494.4,97.9 496,100 497.6,96.9 499.2,100.1 500.8,97.6 502.4,97.4 504,96.6 505.6,98.4 507.2,95.1 508.8,93.8 510.4,93.1 512,94.6 513.6,94.2 515.2,92.5 516.8,93.2 518.4,92.2 520,93 521.6,90.6 523.2,91.7 524.8,90.3 526.4,91.6 528,89.9 529.6,90.5 531.2,88.1 532.8,88.7 534.4,86.3 536,86.2 537.6,87.4 539.2,85.7 540.8,87.6 542.4,84.3 544,86.9" fill="none" stroke="#231f20" stroke-width="0.7"/>
<polyline points="472,59.9 473.6,62.1 475.2,67.6 476.8,68.7 478.4,69.9 480,70.6 481.6,72.6 483.2,74.8 484.8,74.5 486.4,74.8 488,75.8 489.6,74 491.2,71 492.8,73.7 494.4,70.3 496,72.4 497.6,70.8 499.2,72.7 500.8,69.6 502.4,70 504,71.5 505.6,71 507.2,70.6 508.8,69.3 510.4,68.4 512,67.7 513.6,69.6 515.2,66.1 516.8,64.7 518.4,66.8 520,66.7 521.6,65.3 523.2,63.9 524.8,64.9 526.4,64.8 528,64.9 529.6,62.3 531.2,64 532.8,61.2 534.4,62.4 536,63.6 537.6,63 539.2,60.1 540.8,60.2 542.4,59.7 544,63.1" fill="none" stroke="#231f20" stroke-width="0.7"/>
<polyline points="473.6,89.1 475.2,92.5 476.8,90.9 478.4,92.6 480,92.5 481.6,94.7 483.2,94.8 484.8,97.3 486.4,97.8 488,97.5 489.6,98.2 491.2,96.5 492.8,99 494.4,98.1 496,96.3 497.6,96.6 499.2,97.2 500.8,97.9 502.4,98.1 504,98.1 505.6,98.6 507.2,94.9 508.8,94.4 510.4,94.7 512,94 513.6,94.8 515.2,94.7 516.8,93 518.4,92.9 520,92.6 521.6,89.5 523.2,90.1 524.8,89.6 526.4,88 528,88.4 529.6,87.5 531.2,89.1 532.8,87.3 534.4,87.1 536,89.1 537.6,87 539.2,88.5 540.8,86.8 542.4,86 544,86.8" fill="none" stroke="#231f20" stroke-width="0.7"/>
<polyline points="472,62.8 473.6,62.6 475.2,67 476.8,71 478.4,70.2 480,72.9 481.6,72 483.2,72.7 484.8,73.2 486.4,74.2 488,76.2 489.6,75.6 491.2,72.1 492.8,72.1 494.4,70 496,71.9 497.6,72.9 499.2,73.1 500.8,72.9 502.4,72.1 504,69.5 505.6,70.2 507.2,68.5 508.8,67.8 510.4,68.8 512,69.7 513.6,68.9 515.2,66.7 516.8,68.1 518.4,66.2 520,65.9 521.6,67.4 523.2,66.8 524.8,62.9 526.4,64.3 528,64 529.6,63.9 531.2,62.1 532.8,62.5 534.4,62.1 536,62.2 537.6,63.7 539.2,63.1 540.8,62.6 542.4,63.3 544,60.7" fill="none" stroke="#231f20" stroke-width="0.7"/>
<polyline points="473.6,91.5 475.2,92.7 476.8,89.9 478.4,91.2 480,93.8 481.6,92.3 483.2,94 484.8,95.6 486.4,97.9 488,96 489.6,96.5 491.2,97.3 492.8,97.2 494.4,96.9 496,98.6 497.6,97 499.2,96.3 500.8,99.8 502.4,98 504,97.2 505.6,95.9 507.2,97.8 508.8,97.5 510.4,93.3 512,95.1 513.6,94.4 515.2,93.4 516.8,92.3 518.4,91.7 520,92.5 521.6,89.2 523.2,92.1 524.8,88.5 526.4,88.4 528,88.7 529.6,86.8 531.2,90 532.8,87.7 534.4,87.2 536,86.7 537.6,88.5 539.2,86 540.8,86.9 542.4,87.7 544,85.2" fill="none" stroke="#231f20" stroke-width="0.7"/>
<polyline points="472,59.9 473.6,63.9 475.2,67.1 476.8,69.4 478.4,71.1 480,71.6 481.6,73.2 483.2,75.1 484.8,72.9 486.4,76 488,75.8 489.6,74.8 491.2,72.8 492.8,71.1 494.4,71.5 496,71.6 497.6,70.1 499.2,72.2 500.8,71.5 502.4,71.9 504,71 505.6,69.9 507.2,69.6 508.8,70.2 510.4,68.9 512,69.4 513.6,66.2 515.2,66.4 516.8,64.9 518.4,64.3 520,65.5 521.6,65.7 523.2,63.1 524.8,64.5 526.4,64.7 528,63.8 529.6,65.1 531.2,62.3 532.8,62.3 534.4,64.4 536,61.1 537.6,61.3 539.2,60.9 540.8,63.6 542.4,60.6 544,62.6" fill="none" stroke="#231f20" stroke-width="0.7"/>
<polyline points="473.6,88.2 475.2,91.7 476.8,92.4 478.4,93.6 480,92.2 481.6,92.9 483.2,96.6 484.8,94.3 486.4,98.5 488,99 489.6,99.3 491.2,97.1 492.8,99.2 494.4,96.7 496,97.5 497.6,99.6 499.2,97.9 500.8,97.7 502.4,99.5 504,97.4 505.6,97.4 507.2,96.8 508.8,97.1 510.4,96.7 512,93.1 513.6,93.2 515.2,94.3 516.8,93.4 518.4,93.7 520,89.7 521.6,92 523.2,90.5 524.8,92.2 526.4,89.3 528,90.8 529.6,87.2 531.2,87.6 532.8,87.2 534.4,88.1 536,86.2 537.6,87.7 539.2,86.2 540.8,86.7 542.4,85.6 544,86.6" fill="none" stroke="#231f20" stroke-width="0.7"/>
<polyline points="472,63 473.6,63.2 475.2,66.5 476.8,68.7 478.4,68.7 480,71.1 481.6,73.4 483.2,73.2 484.8,74.1 486.4,73.3 488,73.6 489.6,73.3 491.2,71.2 492.8,73.8 494.4,70.6 496,70.9 497.6,69.7 499.2,69.6 500.8,70.6 502.4,70 504,68.7 505.6,69.7 507.2,71.8 508.8,70.1 510.4,67.7 512,68.9 513.6,66 515.2,67.4 516.8,65.7 518.4,64.3 520,65.4 521.6,66.6 523.2,65 524.8,65.3 526.4,62.5 528,64.1 529.6,64.2 531.2,63.3 532.8,62.3 534.4,61.4 536,62 537.6,62.2 539.2,61.3 540.8,62.9 542.4,60.8 544,59.8" fill="none" stroke="#231f20" stroke-width="0.7"/>
<polyline points="473.6,91.2 475.2,90.8 476.8,90.4 478.4,94.3 480,94.6 481.6,94.4 483.2,93.8 484.8,94.6 486.4,98 488,96.7 489.6,97.3 491.2,100.2 492.8,97 494.4,97.7 496,96.7 497.6,98.8 499.2,96.8 500.8,99 502.4,98.1 504,97.4 505.6,97.7 507.2,94.3 508.8,96.4 510.4,93.5 512,94.9 513.6,94.5 515.2,91.6 516.8,93.4 518.4,92.5 520,90.6 521.6,91.7 523.2,89.1 524.8,89.9 526.4,91.4 528,89.9 529.6,87.4 531.2,90.4 532.8,89.4 534.4,87.3 536,86.2 537.6,87.7 539.2,84.7 540.8,86.2 542.4,84.1 544,87.1" fill="none" stroke="#231f20" stroke-width="0.7"/>
<rect x="405.5" y="60.2" width="4" height="50.3" fill="#231f20"/>
<rect x="418.8" y="146" width="58" height="3.7" fill="#231f20"/>
<rect x="37.2" y="167.2" width="26.6" height="8.1" fill="#3d56a6"/>
<rect x="37.2" y="185" width="26.6" height="7.9" fill="#de2a2b"/>
<text x="66.5" y="175.5" font-size="16" textLength="172" lengthAdjust="spacingAndGlyphs" fill="#231f20">horizontal eye positions</text>
<text x="66.5" y="192.5" font-size="16" textLength="151" lengthAdjust="spacingAndGlyphs" fill="#231f20">vertical eye positions</text>
<path d="M32.5,235.8C35.4,235.9 43.8,236 50,236.2C56.2,236.4 64.5,236.7 70,236.8C75.5,236.9 79.9,236.2 82.9,236.6C85.9,237 86.2,237.9 88,239C89.8,240.1 92.2,242 94,243C95.8,244 96.3,244.5 99,244.8C101.7,245.1 104.8,244.6 110,244.6C115.2,244.6 123.3,244.8 130,244.8C136.7,244.9 144.9,244.9 150,244.9C155.1,244.9 157.8,245.1 160.5,244.6C163.2,244.1 164.1,242.8 166,242C167.9,241.2 170.1,240 172,239.5C173.9,239 175.1,239 177.4,239C179.7,239 183.5,239.5 186,239.7C188.5,239.9 190.5,240.4 192.3,240C194.1,239.6 195.2,238.7 197,237C198.8,235.3 201,231.7 203,230C205,228.3 207.1,227.2 209.1,226.7C211.1,226.2 212.9,227 215,227.2C217.1,227.4 219.8,228.2 221.8,228C223.8,227.8 225,226.6 227,226C229,225.4 230.6,224.5 233.6,224.2C236.6,223.9 241.4,224 245,224.1C248.6,224.2 251.2,224.9 255,224.8C258.8,224.8 264.8,223.6 267.6,223.8C270.4,224 270.3,224.5 272,226C273.7,227.5 276.2,230.8 278,233C279.8,235.2 281.7,237.7 283,239C284.3,240.3 284.6,240.6 285.8,240.8C287,241.1 288.1,240.7 290,240.5C291.9,240.3 292,239.6 297,239.6C302,239.6 312.8,240.2 320,240.5C327.2,240.8 332.8,241.2 340,241.5C347.2,241.8 359.4,242.2 363.3,242.4" fill="none" stroke="#4a64b8" stroke-width="1.1"/>
<path d="M32.5,313.6C34.6,313.5 40.4,313 45,313C49.6,313 55,313.3 60,313.5C65,313.7 71.2,313.9 75,314C78.8,314.1 80.4,313.9 82.9,314.2C85.4,314.4 87.5,315.1 90,315.5C92.5,315.9 94.7,316.2 98,316.3C101.3,316.4 104.7,316 110,316C115.3,316 121.7,316.1 130,316.2C138.3,316.2 151.7,316.3 160,316.3C168.3,316.3 174.6,316.2 180,316.2C185.4,316.2 189.2,316.6 192.2,316.1C195.2,315.7 196,314.5 198,313.5C200,312.5 202.1,310.9 204,310C205.9,309.1 207.7,308.7 209.7,308.4C211.7,308.1 214,308.4 216,308.4C218,308.4 219.7,308.3 221.5,308.6C223.3,308.9 225,309.8 227,310.2C229,310.6 230.3,311.1 233.3,311.3C236.3,311.5 240.6,311.3 245,311.4C249.4,311.5 256.2,311.8 260,311.9C263.8,312 265.4,311.8 267.6,312.2C269.8,312.6 270.9,313 273,314C275.1,315 277.9,317 280,318C282.1,319 283,319.8 285.8,320.2C288.6,320.6 291.3,320 297,320.1C302.7,320.2 312.8,320.7 320,321C327.2,321.3 332.8,321.6 340,322C347.2,322.4 359.4,323.2 363.3,323.5" fill="none" stroke="#e03a3d" stroke-width="1.1"/>
<path d="M83.3 223.6V235.4M83.3 248.2V260M83.3 272.8V284.6M83.3 297.4V309.2M83.3 322V333.8M97.4 223.6V235.4M97.4 248.2V260M97.4 272.8V284.6M97.4 297.4V309.2M97.4 322V333.8M160.5 223.6V235.4M160.5 248.2V260M160.5 272.8V284.6M160.5 297.4V309.2M160.5 322V333.8M173 223.6V235.4M173 248.2V260M173 272.8V284.6M173 297.4V309.2M173 322V333.8M192.3 223.6V235.4M192.3 248.2V260M192.3 272.8V284.6M192.3 297.4V309.2M192.3 322V333.8M209.1 223.6V235.4M209.1 248.2V260M209.1 272.8V284.6M209.1 297.4V309.2M209.1 322V333.8M221.8 223.6V235.4M221.8 248.2V260M221.8 272.8V284.6M221.8 297.4V309.2M221.8 322V333.8M233.6 223.6V235.4M233.6 248.2V260M233.6 272.8V284.6M233.6 297.4V309.2M233.6 322V333.8M267.6 223.6V235.4M267.6 248.2V260M267.6 272.8V284.6M267.6 297.4V309.2M267.6 322V333.8M285.8 223.6V235.4M285.8 248.2V260M285.8 272.8V284.6M285.8 297.4V309.2M285.8 322V333.8" stroke="#333" stroke-width="1.1" fill="none"/>
<text x="91.4" y="218" font-size="12.5" text-anchor="middle" fill="#231f20">1</text>
<text x="165.8" y="218" font-size="12.5" text-anchor="middle" fill="#231f20">2</text>
<text x="200.8" y="218" font-size="12.5" text-anchor="middle" fill="#231f20">3</text>
<text x="227.7" y="218" font-size="12.5" text-anchor="middle" fill="#231f20">4</text>
<text x="277.7" y="218" font-size="12.5" text-anchor="middle" fill="#231f20">5</text>
<rect x="16" y="251.4" width="5" height="23.6" fill="#231f20"/>
<rect x="32.5" y="338.8" width="83" height="5.2" fill="#231f20"/>
<path d="M462.7 197.7V360.7H657" fill="none" stroke="#231f20" stroke-width="0.9"/>
<path d="M462.7 360.7h2.5M462.7 344.4h2.5M462.7 328.1h2.5M462.7 311.8h2.5M462.7 295.5h2.5M462.7 279.2h2.5M462.7 262.9h2.5M462.7 246.6h2.5M462.7 230.3h2.5M462.7 214h2.5M462.7 197.7h2.5M462.1 360.7v-2.5M481.5 360.7v-2.5M500.9 360.7v-2.5M520.3 360.7v-2.5M539.7 360.7v-2.5M559.1 360.7v-2.5M578.5 360.7v-2.5M597.9 360.7v-2.5M617.3 360.7v-2.5M636.7 360.7v-2.5M656.1 360.7v-2.5" stroke="#231f20" stroke-width="0.9" fill="none"/>
<text x="459.3" y="221" font-size="19" text-anchor="end" fill="#231f20">400</text>
<text x="459.3" y="253.6" font-size="19" text-anchor="end" fill="#231f20">200</text>
<text x="459.3" y="286.2" font-size="19" text-anchor="end" fill="#231f20">0</text>
<text x="459.3" y="318.8" font-size="19" text-anchor="end" fill="#231f20">-200</text>
<text x="459.3" y="351.4" font-size="19" text-anchor="end" fill="#231f20">-400</text>
<text x="496.1" y="379.6" font-size="19" text-anchor="middle" fill="#231f20">-800</text>
<text x="535.9" y="379.6" font-size="19" text-anchor="middle" fill="#231f20">-400</text>
<text x="578.4" y="379.6" font-size="19" text-anchor="middle" fill="#231f20">0</text>
<text x="615.8" y="379.6" font-size="19" text-anchor="middle" fill="#231f20">400</text>
<text x="655.6" y="379.6" font-size="19" text-anchor="middle" fill="#231f20">800</text>
<text x="457" y="402.4" font-size="19" textLength="214" lengthAdjust="spacingAndGlyphs" fill="#231f20">horizontal velocity (a.u.)</text>
<text transform="translate(417,362.5) rotate(-90)" x="0" y="0" font-size="19" textLength="166" lengthAdjust="spacingAndGlyphs" fill="#231f20">vertical velocity (a.u.)</text>
<path d="M591.4 264.6L571.9 282.3M591.4 264.6L584 274.3M591.4 264.6L577.4 279.8M591.4 264.6L568.7 288.3M597.7 275.6L577.7 280M597.7 275.6L580.4 278M597.7 279.3L585.2 275.7M597.7 279.3L573.2 281.2M592.2 273L573.6 284.2M592.2 273L581.2 276.2M560.5 284.8L579.6 276.9M560.5 284.8L570.1 287M563.4 291.2L579 280.9M563.4 291.2L570.7 284.9M563.4 291.2L578.6 279.6M563.4 291.2L573.3 280.9M568.9 295.6L585.9 274.1M568.9 295.6L567.5 287.5M586.4 297.4L586.6 274.6M586.4 297.4L567.8 286M593 292.3L583.1 277.9M593 292.3L577.8 277.8M571 284.8L587 274.2M571.4 282.3L580.3 279.1M568.9 283.4L582.4 276M570 285.6L580.6 275.6M583.2 276.8L576.6 281M575.8 281.9L570.4 285.4M570.7 286.8L574.6 283M575.1 282.2L571.9 285.3M580.8 277.7L582.1 276M578.6 281.2L573.4 282.1M571.6 285.5L572.7 283.2M583.7 274.9L580.9 277.2M576.4 281.8L582.9 277.7M584 277.1L570.4 285.3M584.9 276.6L585.3 274.4M580.5 280L571.4 282.9M575.2 281.8L567 287.2M585 273.1L572.1 283.6" stroke="#5fc3da" stroke-width="0.75" fill="none"/>
<circle cx="578.6" cy="279.3" r="19.3" fill="none" stroke="#3f58b0" stroke-width="1.1" stroke-dasharray="13 11.25" stroke-dashoffset="12.6"/>
<path d="M597.8,276.1C599.7,276.2 606.1,276.4 609,276.8C611.9,277.2 615.4,277.8 615.4,278.3C615.4,278.8 611.9,279.5 609,279.7C606.1,279.9 599.7,279.5 597.8,279.5" fill="#8a8a8a" stroke="none"/>
<path d="M563.4,292.2C557.6,296 539.1,307.9 528.4,314.8C517.7,321.7 506.4,328.9 499.2,333.8C492,338.8 488.5,341.7 485,344.5C481.5,347.3 479,349.6 478.3,350.8C477.6,352.1 478.7,352.4 481,352C483.3,351.6 486.4,350.9 491.9,348.4C497.4,345.8 505.3,342.2 513.8,336.7C522.3,331.2 534.2,322.3 543,315.5C551.8,308.7 562.5,299.1 566.4,295.8" fill="none" stroke="#231f20" stroke-width="1.9" stroke-linejoin="round"/>
<path d="M560.5,285C558.1,285.8 550.1,288.4 546,290C541.9,291.6 538.2,293.4 536,294.8C533.8,296.2 532.7,297.4 533,298.2C533.3,298.9 535.2,299.6 538,299.3C540.8,299 545.8,297.6 550,296.2C554.2,294.8 560.9,292 563.1,291.1" fill="none" stroke="#231f20" stroke-width="1.9" stroke-linejoin="round"/>
<path d="M597.8,276.1C599.7,276.2 606.1,276.4 609,276.8C611.9,277.2 615.4,277.8 615.4,278.3C615.4,278.8 611.9,279.5 609,279.7C606.1,279.9 599.7,279.5 597.8,279.5" fill="none" stroke="#231f20" stroke-width="1.9" stroke-linejoin="round"/>
<path d="M586.2,297.3C587.4,298.6 591.3,302.9 593.5,305C595.7,307.1 597.9,309.4 599.5,310.2C601.1,311 602.7,310.9 603.3,310C603.9,309.1 603.8,306.9 603,305C602.2,303.1 600.1,300.5 598.5,298.5C596.9,296.5 594,294 593.1,293.1" fill="none" stroke="#231f20" stroke-width="1.9" stroke-linejoin="round"/>
<path d="M591.2,264.4C596.3,259.3 613,242.9 622,234C631,225.1 639.8,216.2 645,211C650.2,205.8 651.7,204.5 653.5,203C655.3,201.5 655.5,202 655.8,202.2C656.1,202.4 656.9,202.2 655.4,204C653.9,205.8 651.9,207.5 646.5,212.7C641.1,217.9 632.4,226.6 623.2,235.3C614.1,244 596.9,259.9 591.6,264.8" fill="none" stroke="#231f20" stroke-width="1.6" stroke-linejoin="round"/>
<text x="614" y="233.5" font-size="12.5" text-anchor="middle" fill="#231f20">3</text>
<text x="603.8" y="272.7" font-size="12.5" text-anchor="middle" fill="#231f20">2</text>
<text x="549.7" y="283.6" font-size="12.5" text-anchor="middle" fill="#231f20">1</text>
<text x="604" y="300.5" font-size="12.5" text-anchor="middle" fill="#231f20">4</text>
<text x="518.4" y="315.5" font-size="12.5" text-anchor="middle" fill="#231f20">5</text>
<path d="M76.6,594.7C77.4,594.8 79.5,595.2 81.4,595.1C83.3,595 86,594.4 88,594C90,593.7 92,593 93.7,593.1C95.5,593.2 96.9,593.8 98.5,594.4C100.1,594.9 101.6,596 103.2,596.2C104.8,596.5 106.6,595.6 108,596C109.4,596.5 110.4,597.9 111.8,599C113.2,600.1 114.9,602.5 116.5,602.5C118.1,602.5 119.6,600.2 121.2,598.9C122.8,597.6 124.5,595.8 126,594.7C127.5,593.6 129,592.5 130.4,592.5C131.8,592.5 132.9,593.7 134.5,594.8C136.1,595.8 138.1,598.7 139.8,598.8C141.6,599 143.2,596.7 145,595.6C146.8,594.5 148.8,592.8 150.7,592.4C152.6,592 154.3,593.7 156.4,593.2C158.5,592.8 161.1,590.6 163,589.8C164.9,589 166.4,589 168,588.5C169.6,587.9 170.8,588.8 172.3,586.3C173.8,583.9 175.5,577.3 177.1,573.9C178.7,570.5 180.4,566.8 181.8,566C183.2,565.2 184.2,566.7 185.6,569.2C187,571.6 188.8,576.9 190.4,580.5C192,584.2 193.8,589.3 195.1,590.9C196.4,592.5 196.9,592.2 198,590C199.1,587.8 200.4,582.2 201.8,577.6C203.2,573 205.1,566 206.5,562.4C207.9,558.9 208.7,557.4 210.3,556.3C211.9,555.2 214.3,556.4 216,555.7C217.7,554.9 219,553.7 220.7,551.8C222.4,550 224.5,546.9 226.4,544.8C228.3,542.8 230.3,541.3 232.1,539.5C233.8,537.6 235.6,535.9 236.9,533.8C238.2,531.6 239,529.5 240.2,526.6C241.4,523.7 242.7,518.8 243.9,516.4C245.1,514 246.2,513.1 247.5,512.3C248.8,511.4 250.4,511.4 251.9,511.3C253.4,511.1 255,512 256.3,511.2C257.6,510.5 258.4,509.1 259.9,506.8C261.3,504.5 263.5,499.4 265,497.3C266.5,495.2 267.3,494.7 268.7,494.4C270.1,494.1 271.8,496 273.1,495.5C274.4,495 275.4,493.5 276.7,491.4C278,489.3 279.6,484.8 281.1,482.9C282.6,481 284,480.1 285.5,480C287,479.8 288.4,480.8 289.9,481.8C291.3,482.9 292.9,485 294.2,486.2C295.5,487.4 296.5,489.5 297.9,489.1C299.2,488.7 300.9,485.4 302.3,484C303.8,482.5 305.3,480.6 306.6,480.2C307.9,479.9 309.2,481 310.3,481.7C311.4,482.4 312.7,484.1 313.2,484.6 L313.2,509.4C312.7,508.9 311.4,507.2 310.3,506.5C309.2,505.7 307.9,504.6 306.6,505C305.3,505.3 303.8,507.2 302.3,508.6C300.9,510.1 299.2,513.4 297.9,513.7C296.5,514.1 295.5,512 294.2,510.8C292.9,509.6 291.3,507.4 289.9,506.4C288.4,505.3 287,504.3 285.5,504.4C284,504.6 282.6,505.4 281.1,507.3C279.6,509.2 278,513.7 276.7,515.8C275.4,517.9 274.4,519.4 273.1,519.9C271.8,520.3 270.1,518.4 268.7,518.6C267.3,518.9 266.5,519.5 265,521.5C263.5,523.6 261.3,528.7 259.9,531C258.4,533.3 257.6,534.6 256.3,535.4C255,536.1 253.4,535.2 251.9,535.3C250.4,535.5 248.8,535.5 247.5,536.3C246.2,537.2 245.1,538 243.9,540.4C242.7,542.8 241.4,547.7 240.2,550.6C239,553.4 238.2,555.5 236.9,557.6C235.6,559.8 233.8,561.5 232.1,563.3C230.3,565.1 228.3,566.5 226.4,568.6C224.5,570.6 222.4,573.8 220.7,575.6C219,577.3 217.7,578.6 216,579.3C214.3,580 211.9,578.8 210.3,579.9C208.7,581 207.9,582.4 206.5,586C205.1,589.5 203.2,596.5 201.8,601C200.4,605.6 199.1,611.2 198,613.4C196.9,615.6 196.4,615.9 195.1,614.3C193.8,612.7 192,607.5 190.4,603.9C188.8,600.2 187,594.9 185.6,592.4C184.2,590 183.2,588.4 181.8,589.2C180.4,590 178.7,593.7 177.1,597.1C175.5,600.5 173.8,607.1 172.3,609.5C170.8,611.9 169.6,611 168,611.5C166.4,612.1 164.9,612 163,612.8C161.1,613.6 158.5,615.8 156.4,616.2C154.3,616.6 152.6,614.9 150.7,615.2C148.8,615.6 146.8,617.3 145,618.4C143.2,619.5 141.6,621.7 139.8,621.6C138.1,621.4 136.1,618.5 134.5,617.4C132.9,616.4 131.8,615.1 130.4,615.1C129,615.1 127.5,616.2 126,617.3C124.5,618.3 122.8,620.2 121.2,621.5C119.6,622.7 118.1,624.9 116.5,624.9C114.9,624.9 113.2,622.5 111.8,621.4C110.4,620.3 109.4,618.9 108,618.4C106.6,617.9 104.8,618.9 103.2,618.6C101.6,618.3 100.1,617.2 98.5,616.6C96.9,616.1 95.5,615.4 93.7,615.3C92,615.2 90,615.9 88,616.2C86,616.5 83.3,617 81.4,617.1C79.5,617.2 77.4,616.8 76.6,616.7Z" fill="#d7d6ed" stroke="none"/>
<path d="M76 455.5V655.3H313.3" fill="none" stroke="#b3b3b3" stroke-width="1"/>
<path d="M76 455.5h2M76 480.4h2M76 505.3h2M76 530.2h2M76 555.1h2M76 580h2M76 604.9h2M76 629.8h2M132.7 655.3v-2M193.4 655.3v-2M253.4 655.3v-2M313.3 655.3v-2" stroke="#999" stroke-width="1" fill="none"/>
<path d="M163 646.4H193.7" stroke="#3a53a4" stroke-width="2.7"/>
<path d="M198.7 646.4H313.2" stroke="#3a53a4" stroke-width="2.7"/>
<path d="M76.6,605.7C77.4,605.8 79.5,606.2 81.4,606.1C83.3,606 86,605.4 88,605.1C90,604.8 92,604.1 93.7,604.2C95.5,604.3 96.9,605 98.5,605.5C100.1,606 101.6,607.1 103.2,607.4C104.8,607.7 106.6,606.7 108,607.2C109.4,607.7 110.4,609.1 111.8,610.2C113.2,611.3 114.9,613.7 116.5,613.7C118.1,613.7 119.6,611.5 121.2,610.2C122.8,608.9 124.5,607.1 126,606C127.5,604.9 129,603.8 130.4,603.8C131.8,603.8 132.9,605 134.5,606.1C136.1,607.2 138.1,610.1 139.8,610.2C141.6,610.4 143.2,608.1 145,607C146.8,605.9 148.8,604.2 150.7,603.8C152.6,603.4 154.3,605.1 156.4,604.7C158.5,604.3 161.1,602.1 163,601.3C164.9,600.5 166.4,600.6 168,600C169.6,599.4 170.8,600.3 172.3,597.9C173.8,595.5 175.5,588.9 177.1,585.5C178.7,582.1 180.4,578.4 181.8,577.6C183.2,576.8 184.2,578.4 185.6,580.8C187,583.2 188.8,588.6 190.4,592.2C192,595.8 193.8,601 195.1,602.6C196.4,604.2 196.9,603.9 198,601.7C199.1,599.5 200.4,593.9 201.8,589.3C203.2,584.7 205.1,577.7 206.5,574.2C207.9,570.7 208.7,569.2 210.3,568.1C211.9,567 214.3,568.2 216,567.5C217.7,566.8 219,565.5 220.7,563.7C222.4,561.9 224.5,558.8 226.4,556.7C228.3,554.7 230.3,553.2 232.1,551.4C233.8,549.6 235.6,547.8 236.9,545.7C238.2,543.6 239,541.5 240.2,538.6C241.4,535.7 242.7,530.8 243.9,528.4C245.1,526 246.2,525.1 247.5,524.3C248.8,523.4 250.4,523.5 251.9,523.3C253.4,523.1 255,524 256.3,523.3C257.6,522.6 258.4,521.2 259.9,518.9C261.3,516.6 263.5,511.5 265,509.4C266.5,507.3 267.3,506.8 268.7,506.5C270.1,506.2 271.8,508.2 273.1,507.7C274.4,507.2 275.4,505.7 276.7,503.6C278,501.5 279.6,497 281.1,495.1C282.6,493.2 284,492.4 285.5,492.2C287,492 288.4,493.1 289.9,494.1C291.3,495.2 292.9,497.3 294.2,498.5C295.5,499.7 296.5,501.8 297.9,501.4C299.2,501 300.9,497.8 302.3,496.3C303.8,494.8 305.3,493 306.6,492.6C307.9,492.2 309.2,493.4 310.3,494.1C311.4,494.8 312.7,496.5 313.2,497" fill="none" stroke="#3a53a4" stroke-width="2.8" stroke-linejoin="round" stroke-linecap="round"/>
<path d="M193.4 455.3V655" stroke="#777" stroke-width="1" stroke-dasharray="7 5.3" stroke-dashoffset="2.6" fill="none"/>
<path d="M243.6 455.3V655" stroke="#777" stroke-width="1" stroke-dasharray="7 5.3" stroke-dashoffset="2.6" fill="none"/>
<text x="72.6" y="464" font-size="19.5" text-anchor="end" textLength="24.6" lengthAdjust="spacingAndGlyphs" fill="#231f20">1.2</text>
<text x="72.6" y="513.8" font-size="19.5" text-anchor="end" textLength="24.6" lengthAdjust="spacingAndGlyphs" fill="#231f20">1.1</text>
<text x="72.6" y="563.6" font-size="19.5" text-anchor="end" fill="#231f20">1</text>
<text x="72.6" y="613.4" font-size="19.5" text-anchor="end" fill="#231f20">0.9</text>
<text x="71.7" y="673.9" font-size="19.5" text-anchor="middle" fill="#231f20">-2</text>
<text x="128.8" y="673.9" font-size="19.5" text-anchor="middle" fill="#231f20">-1</text>
<text x="193" y="673.9" font-size="19.5" text-anchor="middle" fill="#231f20">0</text>
<text x="253" y="673.9" font-size="19.5" text-anchor="middle" fill="#231f20">1</text>
<text x="312.9" y="673.9" font-size="19.5" text-anchor="middle" fill="#231f20">2</text>
<text x="67" y="696" font-size="19" textLength="261" lengthAdjust="spacingAndGlyphs" fill="#231f20">Time from pause initiation (s)</text>
<text transform="translate(36.6,650.3) rotate(-90)" font-size="19.6" textLength="189.5" lengthAdjust="spacingAndGlyphs" fill="#231f20">saccade rate (number/s)</text>
<path d="M421.6,591.6C422.7,591.3 426.4,590.1 428.3,590.1C430.2,590 431.4,591 433,591.5C434.6,592 436.1,593.8 437.8,593C439.6,592.2 441.6,588.9 443.5,586.8C445.4,584.7 447.5,581.1 449.2,580.4C450.9,579.8 452.4,582.2 453.9,582.9C455.4,583.6 456.6,585.4 458.3,584.8C460,584.1 462,581 464.3,579C466.6,577.1 469.2,574.8 471.9,573.3C474.6,571.8 478,570.5 480.5,570.1C483,569.6 484.6,569.9 487.1,570.4C489.6,570.9 493.6,573.5 495.7,573.2C497.8,572.8 498.1,571 499.5,568.4C500.9,565.9 502.8,560.1 504.2,557.9C505.6,555.8 506.4,555.8 508,555.6C509.6,555.4 512,557.1 513.7,556.6C515.4,556 516.7,554.6 518.4,552.1C520.1,549.6 522,545.2 524.1,541.7C526.2,538.2 528.7,533.9 531.1,531C533.5,528 535.9,525.9 538.3,523.7C540.7,521.5 543.4,519.4 545.4,517.6C547.4,515.7 548.6,514.2 550.5,512.4C552.4,510.7 554.8,509.6 556.7,507.2C558.6,504.8 560.1,501.1 561.8,498.1C563.5,495 565.2,490.6 566.9,488.8C568.6,487.1 570,487.7 572,487.7C574,487.7 577.2,488.3 579.2,488.8C581.2,489.3 582.6,490 584.3,490.7C586,491.5 587.5,493.7 589.4,493.2C591.3,492.7 593.5,489.8 595.5,487.6C597.5,485.4 599.9,481.4 601.6,480C603.3,478.7 604.3,478.7 605.7,479.4C607.1,480.2 608.3,482.5 609.8,484.5C611.3,486.5 613.4,490.2 614.9,491.6C616.4,492.9 617.3,492.9 619,492.5C620.7,492.2 623.1,489.7 625.1,489.5C627.1,489.3 629.1,491.6 631.3,491.5C633.5,491.3 636.7,489 638.4,488.8C640.1,488.6 640.1,489.5 641.5,490.4C642.9,491.3 643.9,493.3 646.6,494.5C649.3,495.7 655.9,497 657.8,497.5 L657.8,522.3C655.9,521.8 649.3,520.3 646.6,519.1C643.9,517.9 642.9,516 641.5,515C640.1,514 640.1,513.2 638.4,513.4C636.7,513.5 633.5,515.9 631.3,515.9C629.1,516 627.1,513.8 625.1,513.9C623.1,514.1 620.7,516.5 619,516.9C617.3,517.2 616.4,517.2 614.9,515.8C613.4,514.5 611.3,510.8 609.8,508.7C608.3,506.7 607.1,504.3 605.7,503.6C604.3,502.8 603.3,502.8 601.6,504.2C599.9,505.5 597.5,509.5 595.5,511.6C593.5,513.8 591.3,516.7 589.4,517.2C587.5,517.7 586,515.4 584.3,514.7C582.6,513.9 581.2,513.2 579.2,512.6C577.2,512.1 574,511.5 572,511.5C570,511.5 568.6,510.9 566.9,512.6C565.2,514.3 563.5,518.7 561.8,521.7C560.1,524.8 558.6,528.4 556.7,530.8C554.8,533.2 552.4,534.3 550.5,536C548.6,537.7 547.4,539.2 545.4,541C543.4,542.9 540.7,544.9 538.3,547.1C535.9,549.3 533.5,551.3 531.1,554.2C528.7,557.2 526.2,561.4 524.1,564.9C522,568.4 520.1,572.8 518.4,575.3C516.7,577.7 515.4,579.1 513.7,579.6C512,580.2 509.6,578.4 508,578.6C506.4,578.8 505.6,578.8 504.2,580.9C502.8,583 500.9,588.8 499.5,591.4C498.1,593.9 497.8,595.7 495.7,596C493.6,596.3 489.6,593.7 487.1,593.2C484.6,592.6 483,592.3 480.5,592.7C478,593.2 474.6,594.4 471.9,595.9C469.2,597.4 466.6,599.7 464.3,601.6C462,603.4 460,606.6 458.3,607.2C456.6,607.8 455.4,606 453.9,605.3C452.4,604.5 450.9,602.1 449.2,602.8C447.5,603.4 445.4,607 443.5,609C441.6,611.1 439.6,614.4 437.8,615.2C436.1,616 434.6,614.2 433,613.7C431.4,613.2 430.2,612.2 428.3,612.1C426.4,612.1 422.7,613.4 421.6,613.6Z" fill="#d7d6ed" stroke="none"/>
<path d="M420.8 455.5V655.3H658.1" fill="none" stroke="#b3b3b3" stroke-width="1"/>
<path d="M420.8 455.5h2M420.8 480.4h2M420.8 505.3h2M420.8 530.2h2M420.8 555.1h2M420.8 580h2M420.8 604.9h2M420.8 629.8h2M477.5 655.3v-2M538.2 655.3v-2M598.2 655.3v-2M658.1 655.3v-2" stroke="#999" stroke-width="1" fill="none"/>
<path d="M465.6 646.4H658.5" stroke="#3a53a4" stroke-width="2.7"/>
<path d="M421.6,602.6C422.7,602.4 426.4,601.1 428.3,601.1C430.2,601.1 431.4,602.1 433,602.6C434.6,603.1 436.1,604.9 437.8,604.1C439.6,603.3 441.6,600 443.5,597.9C445.4,595.8 447.5,592.2 449.2,591.6C450.9,591 452.4,593.4 453.9,594.1C455.4,594.8 456.6,596.6 458.3,596C460,595.4 462,592.2 464.3,590.3C466.6,588.4 469.2,586.1 471.9,584.6C474.6,583.1 478,581.9 480.5,581.4C483,580.9 484.6,581.3 487.1,581.8C489.6,582.3 493.6,584.9 495.7,584.6C497.8,584.3 498.1,582.4 499.5,579.9C500.9,577.4 502.8,571.5 504.2,569.4C505.6,567.3 506.4,567.3 508,567.1C509.6,566.9 512,568.7 513.7,568.1C515.4,567.5 516.7,566.2 518.4,563.7C520.1,561.2 522,556.8 524.1,553.3C526.2,549.8 528.7,545.6 531.1,542.6C533.5,539.6 535.9,537.6 538.3,535.4C540.7,533.2 543.4,531.2 545.4,529.3C547.4,527.4 548.6,525.9 550.5,524.2C552.4,522.5 554.8,521.4 556.7,519C558.6,516.6 560.1,512.9 561.8,509.9C563.5,506.8 565.2,502.4 566.9,500.7C568.6,499 570,499.6 572,499.6C574,499.6 577.2,500.2 579.2,500.7C581.2,501.2 582.6,501.9 584.3,502.7C586,503.4 587.5,505.7 589.4,505.2C591.3,504.7 593.5,501.8 595.5,499.6C597.5,497.4 599.9,493.5 601.6,492.1C603.3,490.8 604.3,490.8 605.7,491.5C607.1,492.2 608.3,494.6 609.8,496.6C611.3,498.6 613.4,502.4 614.9,503.7C616.4,505 617.3,505 619,504.7C620.7,504.4 623.1,501.9 625.1,501.7C627.1,501.5 629.1,503.8 631.3,503.7C633.5,503.6 636.7,501.3 638.4,501.1C640.1,500.9 640.1,501.8 641.5,502.7C642.9,503.6 643.9,505.6 646.6,506.8C649.3,508 655.9,509.4 657.8,509.9" fill="none" stroke="#3a53a4" stroke-width="2.8" stroke-linejoin="round" stroke-linecap="round"/>
<path d="M487.8 455.3V655" stroke="#777" stroke-width="1" stroke-dasharray="7 5.3" stroke-dashoffset="2.6" fill="none"/>
<path d="M538.4 455.3V655" stroke="#777" stroke-width="1" stroke-dasharray="7 5.3" stroke-dashoffset="2.6" fill="none"/>
<text x="417.4" y="464" font-size="19.5" text-anchor="end" textLength="24.6" lengthAdjust="spacingAndGlyphs" fill="#231f20">1.2</text>
<text x="417.4" y="513.8" font-size="19.5" text-anchor="end" textLength="24.6" lengthAdjust="spacingAndGlyphs" fill="#231f20">1.1</text>
<text x="417.4" y="563.6" font-size="19.5" text-anchor="end" fill="#231f20">1</text>
<text x="417.4" y="613.4" font-size="19.5" text-anchor="end" fill="#231f20">0.9</text>
<text x="416.5" y="673.9" font-size="19.5" text-anchor="middle" fill="#231f20">-2</text>
<text x="473.6" y="673.9" font-size="19.5" text-anchor="middle" fill="#231f20">-1</text>
<text x="537.8" y="673.9" font-size="19.5" text-anchor="middle" fill="#231f20">0</text>
<text x="597.8" y="673.9" font-size="19.5" text-anchor="middle" fill="#231f20">1</text>
<text x="657.7" y="673.9" font-size="19.5" text-anchor="middle" fill="#231f20">2</text>
<text x="396.9" y="696" font-size="19" textLength="287" lengthAdjust="spacingAndGlyphs" fill="#231f20">Time from pause termination (s)</text>
<text transform="translate(381.7,650.3) rotate(-90)" font-size="19.6" textLength="189.5" lengthAdjust="spacingAndGlyphs" fill="#231f20">saccade rate (number/s)</text>
<text x="0" y="15" font-size="20" font-weight="bold" fill="#231f20">a</text><text x="384.2" y="15" font-size="20" font-weight="bold" fill="#231f20">b</text><text x="0" y="165" font-size="20" font-weight="bold" fill="#231f20">c</text><text x="384.5" y="186.6" font-size="20" font-weight="bold" fill="#231f20">d</text><text x="0" y="433.4" font-size="20" font-weight="bold" fill="#231f20">e</text><text x="350" y="433" font-size="20" font-weight="bold" fill="#231f20">f</text>
</svg></body></html>
